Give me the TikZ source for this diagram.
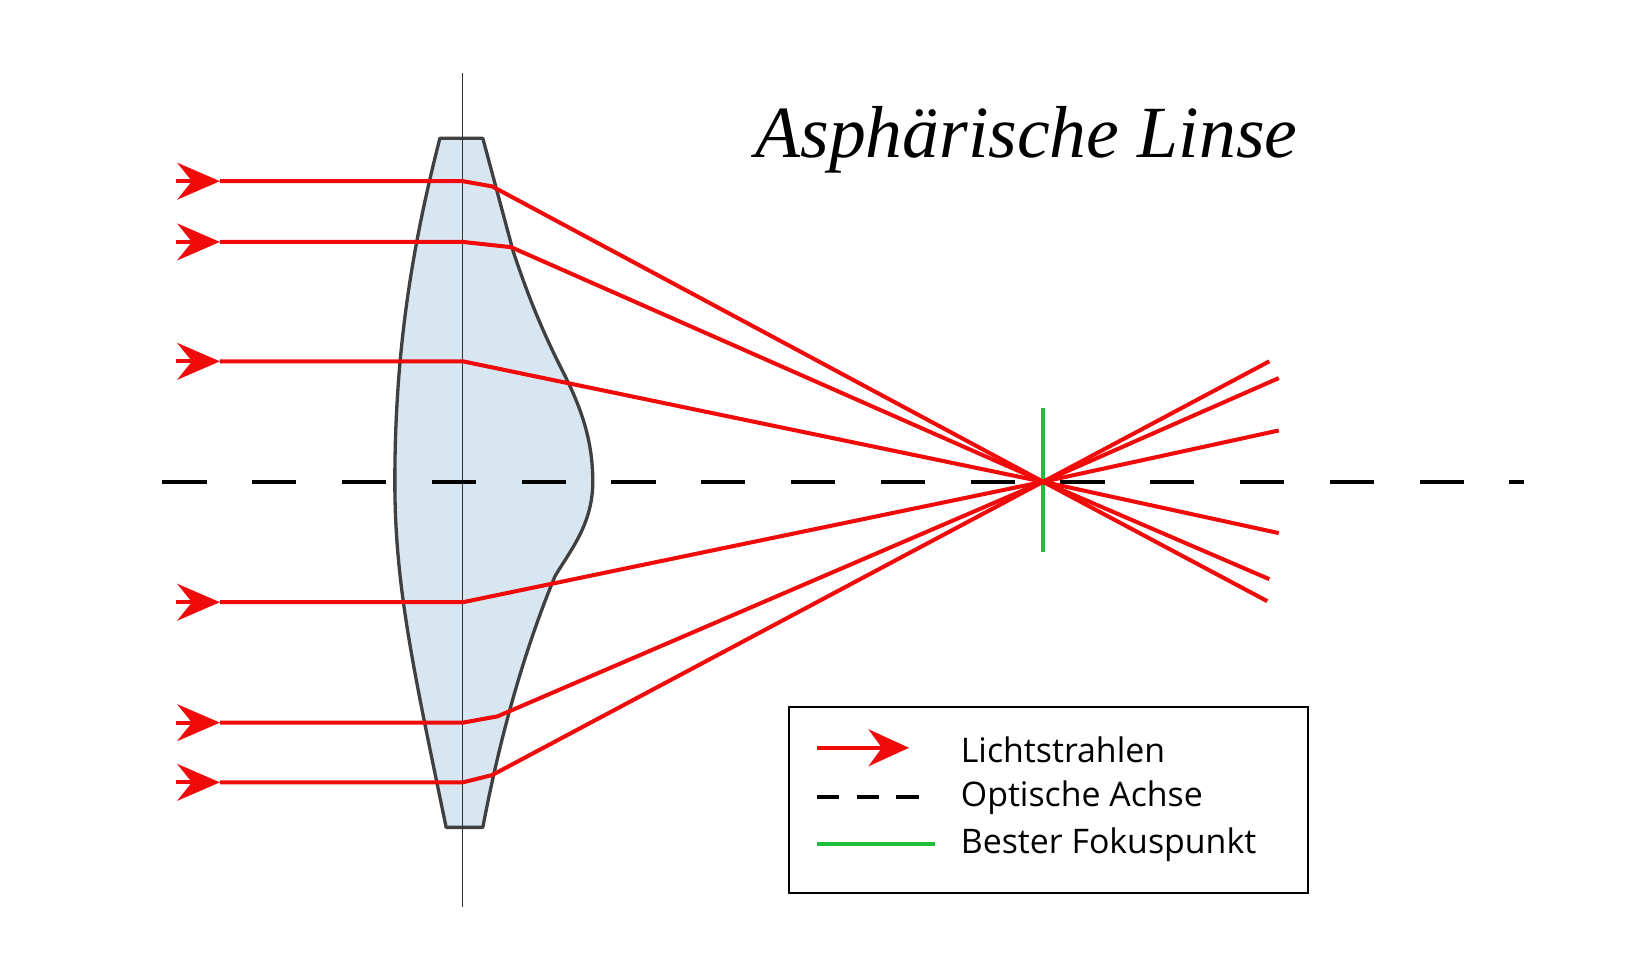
\documentclass[tikz,border=0pt]{standalone}
\usepackage{fontspec}
\setmainfont{Liberation Serif}
\setsansfont{Open Sans}
\usetikzlibrary{arrows.meta}
\definecolor{lensfill}{RGB}{216,230,241}
\definecolor{rayred}{RGB}{240,10,10}
\definecolor{fgreen}{RGB}{30,190,60}
\tikzset{
 ray/.style={rayred,line width=5.5pt,line join=round},
 arr/.style={rayred,line width=5.5pt,-{Stealth[length=58pt,width=50pt,inset=20pt]}},
 axis/.style={black,line width=5.5pt,dash pattern=on 60pt off 62pt},
}
\begin{document}
\begin{tikzpicture}[x=0.05cm,y=-0.05cm]
\useasboundingbox (0,0) rectangle (1564,920);
% lens
\draw[fill=lensfill,draw=black!75,line width=4.5pt,line join=round]
 (420,132) -- (461,132) -- (490,240) .. controls (510,300) and (525,330) .. (540,360)
 .. controls (560,400) and (566,430) .. (566,460)
 .. controls (566,500) and (545,525) .. (530,550)
 .. controls (505,610) and (480,690) .. (461,790) -- (426,790)
 .. controls (395,640) and (377,560) .. (377,460)
 .. controls (377,330) and (395,230) .. (420,132) -- cycle;
\draw[black!80,line width=1.4pt] (442,70) coordinate (lt) -- (442,866) coordinate (lb);
% axis
\coordinate (a1) at (155,460); \coordinate (a2) at (1455,460);
\draw[axis] (a1) -- (a2);
% focus
\coordinate (F) at (996,460);
\draw[fgreen,line width=4.5pt] (996,390) coordinate (g1) -- (996,527) coordinate (g2);
% rays
\foreach \y/\ex/\ey/\tx/\ty [count=\i] in {173/470/178/1212/345, 231/488/236/1221/361, 345/442/345/1221/411, 575/442/575/1221/509, 690/475/684/1212/553, 747/470/740/1210/574}{
 \coordinate (s\i) at (168,\y); \coordinate (h\i) at (210,\y);
 \coordinate (b\i) at (442,\y); \coordinate (e\i) at (\ex,\ey); \coordinate (t\i) at (\tx,\ty);
 \draw[arr] (s\i) -- (h\i);
 \draw[ray] (h\i) -- (b\i) -- (e\i) -- (F) -- (t\i);
}
% title
\node[font=\itshape\fontsize{100}{110}\selectfont,anchor=base] (title) at (980,150) {Asphärische Linse};
% legend
\node[draw,line width=2.6pt,minimum width=496*0.05cm,minimum height=178*0.05cm,anchor=north west] (leg) at (752,674) {};
\coordinate (l1a) at (780,714); \coordinate (l1b) at (868,714);
\draw[rayred,line width=5.5pt,-{Stealth[length=55pt,width=50pt,inset=18pt]}] (l1a) -- (l1b);
\coordinate (l2a) at (780,761); \coordinate (l2b) at (893,761);
\draw[black,line width=5.5pt,dash pattern=on 30pt off 24pt] (l2a) -- (l2b);
\coordinate (l3a) at (780,806); \coordinate (l3b) at (893,806);
\draw[fgreen,line width=5.5pt] (l3a) -- (l3b);
\tikzset{lt/.style={font=\sffamily\fontsize{46}{50}\selectfont,anchor=west}}
\node[lt] (t1) at (915,716) {Lichtstrahlen};
\node[lt] (t2) at (915,762) {Optische Achse};
\node[lt] (t3) at (915,807) {Bester Fokuspunkt};
\end{tikzpicture}
\end{document}
